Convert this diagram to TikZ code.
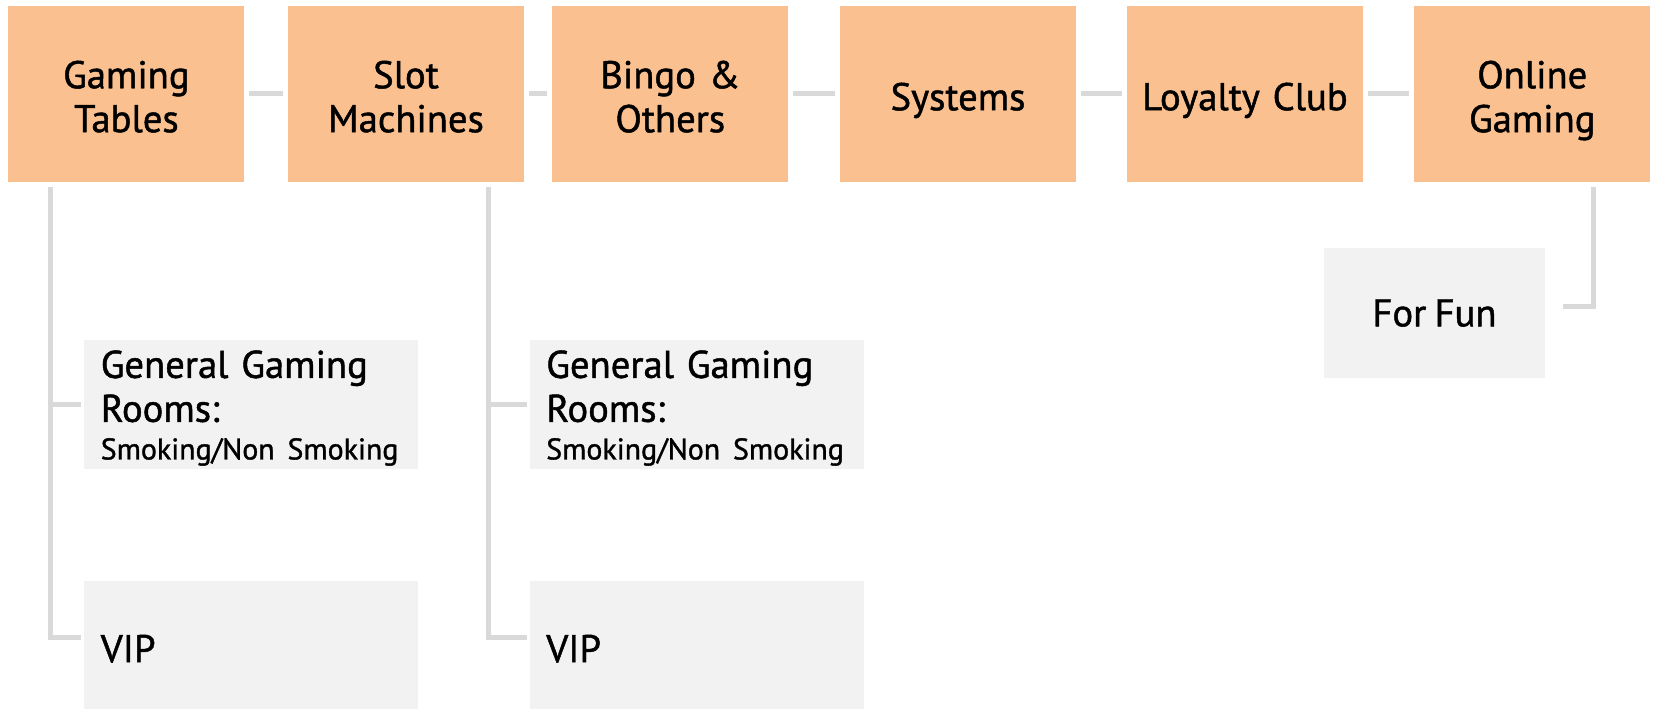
\documentclass[tikz,border=0pt]{standalone}
\usepackage{fontspec}
\setmainfont{PT Sans}[FakeBold=1.2, WordSpace=0.8]
\usepackage{xcolor}
\usetikzlibrary{positioning}

\definecolor{orange-a}{HTML}{FAC090}
\definecolor{gray-a}{HTML}{F2F2F2}
\definecolor{line-a}{HTML}{D9D9D9}

\begin{document}
\begin{tikzpicture}
[
every node/.style={outer sep=0mm},
head-a/.style={fill=orange-a, minimum width=23.6mm, minimum height=17.55mm, inner sep=0mm,
               text width=23.6mm, align=center, font=\fontsize{11}{12.5}\selectfont,
               execute at begin node={\rule{0pt}{13pt}}, execute at end node=\strut},
room-a/.style={fill=gray-a, minimum width=33.4mm, minimum height=12.95mm, inner xsep=1.65mm,
               inner ysep=0mm, text width=30.1mm, align=left, font=\fontsize{11}{12.5}\selectfont,
               execute at begin node={\rule{0pt}{10pt}}},
fun-a/.style={fill=gray-a, minimum width=22.1mm, minimum height=13.0mm, inner sep=0mm,
              align=center, font=\fontsize{11}{12.5}\selectfont},
link-a/.style={draw=line-a, line width=0.5mm, shorten <=0.5mm, shorten >=0.5mm}
]
\useasboundingbox (0,0) rectangle (16.53,-7.09);

% top row
\node (gaming)  [head-a, anchor=north west] at (0.084,-0.062) {Gaming\\Tables};
\node (slot)    [head-a, right = 4.36mm of gaming]  {Slot\\Machines};
\node (bingo)   [head-a, right = 2.83mm of slot]    {Bingo \&\\Others};
\node (systems) [head-a, right = 5.17mm of bingo]   {Systems};
\node (loyalty) [head-a, right = 5.1mm of systems]  {Loyalty Club};
\node (online)  [head-a, right = 5.13mm of loyalty] {Online\\Gaming};

% rooms under the tables and the slots
\node (general-1) [room-a, below right = 15.78mm and 7.59mm of gaming.south west]
  {General Gaming\\Rooms:\\[-1.8pt]{\fontsize{8.5}{10.7}\selectfont\mbox{Smoking/Non Smoking}}};
\node (vip-1)     [room-a, minimum height=12.75mm, below = 11.2mm of general-1] {VIP};
\node (general-2) [room-a, right = 11.15mm of general-1]
  {General Gaming\\Rooms:\\[-1.8pt]{\fontsize{8.5}{10.7}\selectfont\mbox{Smoking/Non Smoking}}};
\node (vip-2)     [room-a, minimum height=12.75mm, below = 11.2mm of general-2] {VIP};

\node (fun) [fun-a, below right = 6.63mm and -9.03mm of online.south west] {For Fun};

% links along the top row
\draw [link-a] (gaming)  -- (slot);
\draw [link-a] (slot)    -- (bingo);
\draw [link-a] (bingo)   -- (systems);
\draw [link-a] (systems) -- (loyalty);
\draw [link-a] (loyalty) -- (online);

% links down to the rooms
\coordinate (trunk-1) at ([xshift=4.22mm]gaming.south west);
\coordinate (trunk-2) at ([xshift=-3.53mm]slot.south east);
\coordinate (trunk-3) at ([xshift=-5.7mm]online.south east);
\draw [link-a, shorten >=0.3mm] (trunk-1) |- (general-1.west);
\draw [link-a, shorten >=0.3mm] (trunk-1) |- ([yshift=0.7mm]vip-1.west);
\draw [link-a, shorten >=0.3mm] (trunk-2) |- (general-2.west);
\draw [link-a, shorten >=0.3mm] (trunk-2) |- ([yshift=0.7mm]vip-2.west);
\draw [link-a, shorten >=1.8mm] (trunk-3) |- ([yshift=0.7mm]fun.east);
\end{tikzpicture}
\end{document}
